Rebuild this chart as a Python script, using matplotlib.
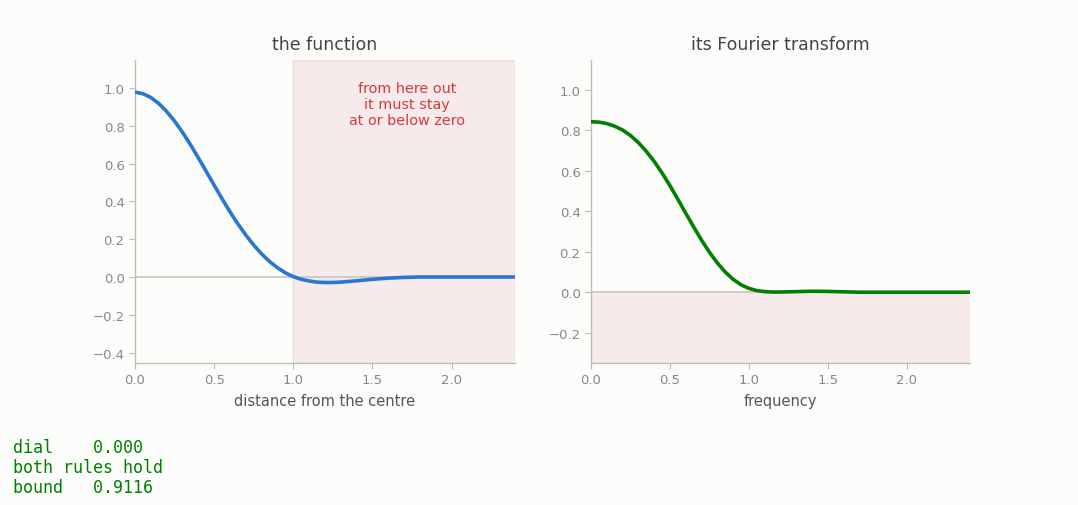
import matplotlib
matplotlib.use("Agg")
import matplotlib.pyplot as plt

plt.rcParams['font.family'] = ['DejaVu Sans']

# values
x_space = [0.0, 0.05, 0.1, 0.15, 0.2, 0.25, 0.3, 0.35, 0.4, 0.45, 0.5, 0.55,
           0.6, 0.65, 0.7, 0.75, 0.8, 0.85, 0.9, 0.95, 1.0, 1.05, 1.1, 1.15,
           1.2, 1.25, 1.3, 1.4, 1.5, 1.6, 1.7, 1.8, 2.0, 2.2, 2.4]
f_vals = [0.978, 0.970, 0.950, 0.918, 0.876, 0.825, 0.766, 0.701, 0.631, 0.559,
          0.486, 0.414, 0.345, 0.281, 0.222, 0.169, 0.122, 0.082, 0.049, 0.022,
          0.002, -0.012, -0.021, -0.027, -0.029, -0.029, -0.027, -0.020, -0.012,
          -0.006, -0.002, 0.0, 0.0, 0.0, 0.0]

x_freq = [0.0, 0.05, 0.1, 0.15, 0.2, 0.25, 0.3, 0.35, 0.4, 0.45, 0.5, 0.55,
          0.6, 0.65, 0.7, 0.75, 0.8, 0.85, 0.9, 0.95, 1.0, 1.05, 1.1, 1.15,
          1.2, 1.3, 1.4, 1.5, 1.6, 1.7, 1.8, 2.0, 2.2, 2.4]
g_vals = [0.843, 0.841, 0.834, 0.821, 0.802, 0.775, 0.740, 0.697, 0.647, 0.590,
          0.527, 0.460, 0.391, 0.323, 0.258, 0.198, 0.145, 0.100, 0.064, 0.037,
          0.019, 0.008, 0.003, 0.001, 0.001, 0.003, 0.005, 0.004, 0.002, 0.0,
          0.0, 0.0, 0.0, 0.0]

readout = ["dial    0.000", "both rules hold", "bound   0.9116"]

bg = '#fcfcfa'
spine_c = '#bdbdb5'
tick_c = '#888888'
shade = '#f6eaea'

fig = plt.figure(figsize=(10.78, 5.06), dpi=100, facecolor=bg)
ax1 = fig.add_axes([0.1252, 0.2806, 0.3525, 0.5988], facecolor=bg)
ax2 = fig.add_axes([0.5482, 0.2806, 0.3516, 0.5988], facecolor=bg)

for ax in (ax1, ax2):
    for s in ('top', 'right'):
        ax.spines[s].set_visible(False)
    for s in ('left', 'bottom'):
        ax.spines[s].set_color(spine_c)
        ax.spines[s].set_linewidth(1.0)
    ax.tick_params(colors=spine_c, labelcolor=tick_c, labelsize=9.5, length=4)
    ax.set_xlim(0, 2.4)
    ax.set_xticks([0.0, 0.5, 1.0, 1.5, 2.0])

# left: the function
ax1.set_ylim(-0.455, 1.148)
ax1.set_yticks([-0.4, -0.2, 0.0, 0.2, 0.4, 0.6, 0.8, 1.0])
ax1.axvspan(1.0, 2.4, facecolor=shade, edgecolor='#f2d8d8', lw=1, zorder=0)
ax1.axhline(0, color='#c8c5be', lw=1.2, zorder=1)
ax1.plot(x_space, f_vals, color='#2a77d3', lw=2.6, zorder=3,
         solid_capstyle='butt', solid_joinstyle='round')
ax1.text(1.72, 0.915, "from here out\nit must stay\nat or below zero",
         ha='center', va='center', color='#d9383f', fontsize=10.4,
         linespacing=1.16)
ax1.set_title("the function", color='#444444', fontsize=12.5, pad=8)
ax1.set_xlabel("distance from the centre", color='#555555', fontsize=10.5,
               labelpad=5)

# right: its Fourier transform
ax2.set_ylim(-0.35, 1.148)
ax2.set_yticks([-0.2, 0.0, 0.2, 0.4, 0.6, 0.8, 1.0])
ax2.axhspan(-0.35, 0, facecolor=shade, edgecolor='none', zorder=0)
ax2.axhline(0, color='#c8c5be', lw=1.2, zorder=1)
ax2.plot(x_freq, g_vals, color='#008000', lw=2.6, zorder=3,
         solid_capstyle='butt', solid_joinstyle='round')
ax2.set_title("its Fourier transform", color='#444444', fontsize=12.5, pad=8)
ax2.set_xlabel("frequency", color='#555555', fontsize=10.5, labelpad=5)

fig.text(0.012, 0.076, "\n".join(readout), family='DejaVu Sans Mono',
         fontsize=12, color='#008000', va='center', ha='left',
         linespacing=1.14)

fig.savefig("out.png", dpi=100, facecolor=bg)
